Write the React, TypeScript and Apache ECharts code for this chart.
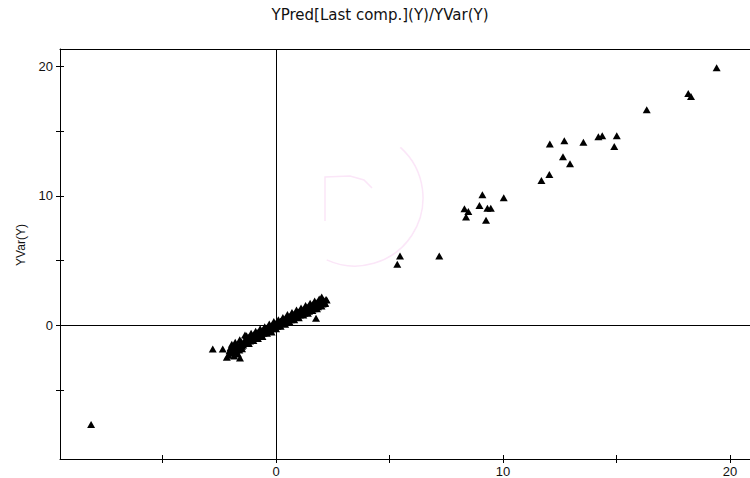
import React, { useEffect, useRef } from "react";
import * as echarts from "echarts";

const titleText = "YPred[Last comp.](Y)/YVar(Y)";
const yAxisName = "YVar(Y)";

const xMin = -9.52;
const xMax = 20.88;
const yMin = -10.31;
const yMax = 21.35;

const xTickValues = [-5, 0, 5, 10, 15, 20];
const xLabelValues = [0, 10, 20];
const yTickValues = [-5, 0, 5, 10, 15, 20];
const yLabelValues = [0, 10, 20];

// dense band of observations around the origin
const lowerBlob: [number, number][] = [
  [-2.05, -1.95], [-2.0, -1.7], [-1.95, -2.15], [-1.9, -1.85], [-1.85, -1.55],
  [-1.8, -2.05], [-1.75, -1.75], [-1.7, -1.45], [-1.68, -2.2], [-1.62, -1.9],
  [-1.58, -1.6], [-1.52, -1.3], [-1.5, -1.8], [-1.45, -1.5], [-1.4, -1.2],
  [-1.95, -1.45], [-1.8, -1.3], [-2.1, -2.3], [-1.85, -2.35], [-1.6, -1.1],
  [-1.9, -2.0], [-1.75, -1.95], [-1.65, -1.7], [-1.55, -1.45], [-2.0, -1.85],
  [-1.7, -1.6], [-1.5, -1.6],
];
const negativeBand: [number, number][] = [
  [-1.35, -1.35], [-1.3, -1.05], [-1.25, -1.25], [-1.2, -0.95], [-1.15, -1.2],
  [-1.1, -0.9], [-1.05, -1.05], [-1.0, -0.8], [-0.95, -1.0], [-0.9, -0.7],
  [-0.85, -0.9], [-0.8, -0.6], [-0.75, -0.8], [-0.7, -0.55], [-0.65, -0.7],
  [-0.6, -0.45], [-0.55, -0.6], [-0.5, -0.35], [-0.45, -0.55], [-0.4, -0.3],
  [-0.35, -0.45], [-0.3, -0.2], [-0.25, -0.35], [-0.2, -0.1], [-0.15, -0.25],
  [-0.1, 0.0], [-0.05, -0.15],
];
const positiveBand: [number, number][] = [
  [0.0, 0.1], [0.05, -0.05], [0.1, 0.2], [0.15, 0.05], [0.2, 0.3], [0.25, 0.15],
  [0.3, 0.35], [0.35, 0.2], [0.4, 0.45], [0.45, 0.3], [0.5, 0.55], [0.55, 0.35],
  [0.6, 0.6], [0.65, 0.45], [0.7, 0.75], [0.75, 0.55], [0.8, 0.85], [0.85, 0.65],
  [0.9, 0.9], [0.95, 0.7], [1.0, 1.0], [1.05, 0.8], [1.1, 1.1], [1.15, 0.9],
  [1.2, 1.15], [1.25, 0.95], [1.3, 1.25], [1.35, 1.05], [1.4, 1.35], [1.45, 1.1],
  [1.5, 1.4], [1.55, 1.2], [1.6, 1.5], [1.65, 1.3], [1.7, 1.55], [1.75, 1.4],
  [1.8, 1.65], [1.85, 1.45], [1.9, 1.75], [1.95, 1.55], [2.0, 1.85], [2.05, 1.65],
  [2.1, 1.95], [2.15, 1.75], [2.2, 2.0], [2.01, 2.2], [2.23, 1.96], [2.16, 1.7],
];
const bandUpperEdge: [number, number][] = [
  [-1.3, -0.8], [-1.1, -0.6], [-0.9, -0.45], [-0.7, -0.25], [-0.5, -0.1],
  [-0.3, 0.12], [-0.1, 0.3], [0.1, 0.45], [0.3, 0.62], [0.5, 0.85], [0.7, 1.0],
  [0.9, 1.2], [1.1, 1.35], [1.3, 1.55], [1.5, 1.72], [1.7, 1.9], [1.9, 2.05],
];
const bandUpperMid: [number, number][] = [
  [-1.2, -0.9], [-1.0, -0.72], [-0.8, -0.55], [-0.6, -0.38], [-0.4, -0.2],
  [-0.2, -0.02], [0.0, 0.17], [0.2, 0.33], [0.4, 0.52], [0.6, 0.7], [0.8, 0.88],
  [1.0, 1.05], [1.2, 1.23], [1.4, 1.4], [1.6, 1.6], [1.8, 1.76], [2.0, 1.95],
];
const bandLowerMid: [number, number][] = [
  [-1.3, -1.28], [-1.1, -1.1], [-0.9, -0.92], [-0.7, -0.75], [-0.5, -0.55],
  [-0.3, -0.38], [-0.1, -0.2], [0.1, -0.02], [0.3, 0.15], [0.5, 0.33], [0.7, 0.5],
  [0.9, 0.68], [1.1, 0.85], [1.3, 1.03], [1.5, 1.2], [1.7, 1.38], [1.9, 1.55],
];
const bandLowerEdge: [number, number][] = [
  [-1.2, -1.4], [-1.0, -1.15], [-0.8, -1.0], [-0.6, -0.85], [-0.4, -0.6],
  [-0.2, -0.5], [0.0, -0.25], [0.2, -0.05], [0.4, 0.1], [0.6, 0.25], [0.8, 0.45],
  [1.0, 0.6], [1.2, 0.8], [1.4, 0.95], [1.6, 1.15], [1.8, 1.3], [2.0, 1.5],
];
const isolatedNearOrigin: [number, number][] = [
  [-2.79, -1.81], [-2.35, -1.81], [-2.17, -2.45], [-1.59, -2.52], [-1.37, -0.73],
  [1.76, 0.55],
];
// observations with large values
const upperPoints: [number, number][] = [
  [5.46, 5.37], [5.34, 4.73], [7.19, 5.37], [9.09, 10.09], [8.96, 9.27],
  [8.3, 9.02], [8.47, 8.81], [8.37, 8.37], [9.31, 9.06], [9.46, 9.06],
  [9.25, 8.12], [10.03, 9.86], [11.69, 11.2], [12.04, 11.65], [12.06, 14.02],
  [12.7, 14.27], [12.64, 13.02], [12.95, 12.48], [13.54, 14.14], [14.2, 14.58],
  [14.37, 14.65], [15.01, 14.65], [14.9, 13.83], [16.33, 16.65], [18.16, 17.91],
  [18.28, 17.68], [19.41, 19.91],
];
const outlierPoints: [number, number][] = [[-8.15, -7.65]];

const fontFamily = "'Liberation Sans', Arial, sans-serif";

export default function App() {
  const ref = useRef<HTMLDivElement>(null);
  useEffect(() => {
    if (!ref.current) return;
    const chart = echarts.init(ref.current, undefined, { renderer: "svg" });
    const data = [
      ...lowerBlob,
      ...negativeBand,
      ...positiveBand,
      ...bandUpperEdge,
      ...bandUpperMid,
      ...bandLowerMid,
      ...bandLowerEdge,
      ...isolatedNearOrigin,
      ...upperPoints,
      ...outlierPoints,
    ];
    const axisLineStyle = { color: "#000", width: 1 };
    const labelStyle = { color: "#111", fontSize: 13, fontFamily };
    chart.setOption({
      animation: false,
      backgroundColor: "#fff",
      grid: { left: 60, right: 0, top: 49, bottom: 19 },
      xAxis: [
        {
          type: "value", min: xMin, max: xMax, position: "bottom",
          axisLine: { show: true, onZero: false, lineStyle: axisLineStyle },
          axisTick: { show: true, inside: false, length: 4, customValues: xTickValues, lineStyle: axisLineStyle },
          axisLabel: { show: true, customValues: xLabelValues, margin: 6, ...labelStyle },
          splitLine: { show: false },
        },
        {
          type: "value", min: xMin, max: xMax, position: "bottom",
          axisLine: { show: false, onZero: false },
          axisTick: { show: true, inside: true, length: 4, customValues: xTickValues, lineStyle: axisLineStyle },
          axisLabel: { show: false },
          splitLine: { show: false },
        },
        {
          type: "value", min: xMin, max: xMax, position: "top",
          axisLine: { show: true, onZero: false, lineStyle: axisLineStyle },
          axisTick: { show: false },
          axisLabel: { show: false },
          splitLine: { show: false },
        },
      ],
      yAxis: [
        {
          type: "value", min: yMin, max: yMax, position: "left",
          axisLine: { show: true, onZero: false, lineStyle: axisLineStyle },
          axisTick: { show: true, inside: false, length: 4, customValues: yTickValues, lineStyle: axisLineStyle },
          axisLabel: { show: true, customValues: yLabelValues, margin: 7, ...labelStyle },
          splitLine: { show: false },
        },
        {
          type: "value", min: yMin, max: yMax, position: "left",
          axisLine: { show: false, onZero: false },
          axisTick: { show: true, inside: true, length: 4, customValues: yTickValues, lineStyle: axisLineStyle },
          axisLabel: { show: false },
          splitLine: { show: false },
        },
      ],
      graphic: [
        {
          type: "arc", z: -10, silent: true,
          shape: { cx: 355, cy: 198, r: 68, startAngle: -0.84, endAngle: 2.0, clockwise: true },
          style: { stroke: "#fbe6f8", lineWidth: 1.5, fill: null },
        },
        {
          type: "polyline", z: -10, silent: true,
          shape: { points: [[325, 221], [325, 177], [350, 176], [364, 180], [372, 188]] },
          style: { stroke: "#fbe6f8", lineWidth: 1.5, fill: null },
        },
        {
          type: "text", x: 380, y: 15,
          style: {
            text: titleText, fontSize: 15, fontFamily: "'DejaVu Sans', sans-serif",
            fill: "#111", textAlign: "center", textVerticalAlign: "middle",
          },
        },
        {
          type: "text", x: 21, y: 245, rotation: Math.PI / 2,
          style: {
            text: yAxisName, fontSize: 12, fontFamily,
            fill: "#111", textAlign: "center", textVerticalAlign: "middle",
          },
        },
      ],
      series: [
        {
          type: "scatter",
          xAxisIndex: 0,
          yAxisIndex: 0,
          symbol: "triangle",
          symbolSize: [8, 7],
          itemStyle: { color: "#000", opacity: 1 },
          data,
          markLine: {
            silent: true,
            symbol: "none",
            label: { show: false },
            lineStyle: { color: "#000", width: 1, type: "solid", opacity: 1 },
            data: [{ xAxis: 0 }, { yAxis: 0 }],
          },
        },
      ],
    });
    return () => chart.dispose();
  }, []);
  return (
    <div
      ref={ref}
      style={{ position: "fixed", left: 0, top: 0, width: 750, height: 478, background: "#fff" }}
    />
  );
}
